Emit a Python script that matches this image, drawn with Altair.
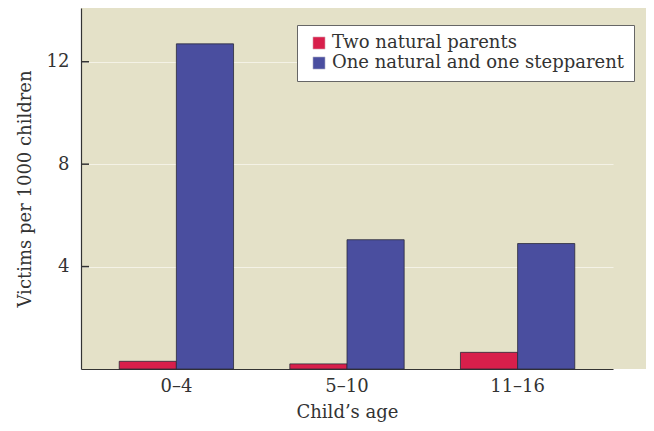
import altair as alt
import pandas as pd

ages = ["0–4", "5–10", "11–16"]
series = ["Two natural parents", "One natural and one stepparent"]
two_natural = [0.3, 0.2, 0.65]
step_parent = [12.7, 5.05, 4.9]
y_ticks = [4, 8, 12]
colors = ["#d81f4b", "#4a4e9f"]

rows = []
for a, v in zip(ages, two_natural):
    rows.append({"age": a, "group": series[0], "value": v})
for a, v in zip(ages, step_parent):
    rows.append({"age": a, "group": series[1], "value": v})
df = pd.DataFrame(rows)
ticks_df = pd.DataFrame({"t": y_ticks})

FONT = "DejaVu Serif"

y_scale = alt.Scale(domain=[0, 14.1], nice=False, zero=True)

bars = alt.Chart(df).mark_bar(stroke="#2b2b3a", strokeWidth=0.8).encode(
    x=alt.X("age:N", sort=ages,
            scale=alt.Scale(range=[0, 532], paddingInner=0.33, paddingOuter=0.224),
            axis=alt.Axis(title="Child’s age", labelAngle=0, ticks=False,
                          labelPadding=8, titlePadding=8,
                          domainColor="#333", domainWidth=1.2)),
    xOffset=alt.XOffset("group:N", sort=series, scale=alt.Scale(paddingInner=0, paddingOuter=0)),
    y=alt.Y("value:Q", scale=y_scale,
            axis=alt.Axis(title="Victims per 1000 children", values=y_ticks,
                          ticks=False, labelPadding=12, titlePadding=12,
                          domainColor="#333", domainWidth=1.2,
                          grid=True, gridColor="#f4f2e6", gridWidth=1)),
    color=alt.Color("group:N", sort=series,
                    scale=alt.Scale(domain=series, range=colors),
                    legend=alt.Legend(title=None, orient="none", legendX=216, legendY=17,
                                      symbolType="square", symbolSize=150,
                                      symbolStrokeColor="#ddd", symbolStrokeWidth=0.5,
                                      fillColor="white", strokeColor="#666",
                                      padding=9, rowPadding=2, labelFontSize=18,
                                      labelFont=FONT, labelColor="#333", labelLimit=400,
                                      symbolOffset=4)),
)

tickmarks = alt.Chart(ticks_df).mark_rule(color="#333", strokeWidth=1.5).encode(
    y=alt.Y("t:Q", scale=y_scale),
    x=alt.value(0),
    x2=alt.value(8),
)

chart = alt.layer(bars, tickmarks).properties(
    width=565, height=361,
    autosize=alt.AutoSizeParams(type="none"),
    padding={"left": 73, "top": 0, "right": 0, "bottom": 58},
    background="white",
).configure_view(
    fill="#e4e1c8", stroke=None
).configure_axis(
    labelFont=FONT, titleFont=FONT, labelFontSize=18, titleFontSize=18,
    labelColor="#333", titleColor="#333", titleFontWeight="normal"
)

chart.save("out.html", embed_options={"renderer": "svg", "actions": False})
